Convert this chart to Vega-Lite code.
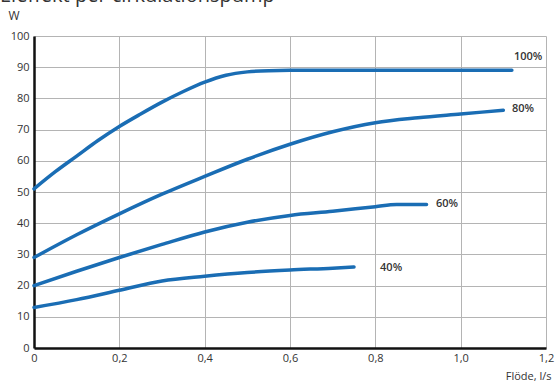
{
  "$schema": "https://vega.github.io/schema/vega-lite/v6.json",
  "width": 512,
  "height": 312,
  "autosize": "none",
  "padding": {"left": 34, "top": 36, "right": 11, "bottom": 35},
  "background": "white",
  "title": {
    "text": "Eleffekt per cirkulationspump",
    "anchor": "start",
    "frame": "group",
    "dx": -34,
    "dy": 13,
    "offset": 0,
    "baseline": "alphabetic",
    "fontSize": 20,
    "font": "Open Sans",
    "fontWeight": "normal",
    "color": "#333333"
  },
  "config": {
    "view": {"stroke": null},
    "font": "Open Sans",
    "axis": {
      "labelFont": "Open Sans",
      "labelFontSize": 11,
      "labelColor": "#333333",
      "labelOverlap": false,
      "labelFlush": false,
      "titleFont": "Open Sans",
      "titleFontSize": 11,
      "titleFontWeight": "normal",
      "titleColor": "#333333",
      "gridColor": "#b4b4b4",
      "gridWidth": 1,
      "gridOpacity": 1,
      "domainColor": "#111111",
      "domainWidth": 2.5,
      "ticks": false
    }
  },
  "datasets": {
    "curves": [
      {"x": 0, "y": 51, "s": "100%"},
      {"x": 0.05, "y": 56.5, "s": "100%"},
      {"x": 0.1, "y": 61.5, "s": "100%"},
      {"x": 0.15, "y": 66.5, "s": "100%"},
      {"x": 0.2, "y": 71, "s": "100%"},
      {"x": 0.25, "y": 75, "s": "100%"},
      {"x": 0.3, "y": 78.8, "s": "100%"},
      {"x": 0.35, "y": 82.2, "s": "100%"},
      {"x": 0.4, "y": 85.2, "s": "100%"},
      {"x": 0.45, "y": 87.4, "s": "100%"},
      {"x": 0.5, "y": 88.5, "s": "100%"},
      {"x": 0.55, "y": 88.9, "s": "100%"},
      {"x": 0.6, "y": 89, "s": "100%"},
      {"x": 0.8, "y": 89, "s": "100%"},
      {"x": 1.0, "y": 89, "s": "100%"},
      {"x": 1.12, "y": 89, "s": "100%"},
      {"x": 0, "y": 29, "s": "80%"},
      {"x": 0.1, "y": 36.3, "s": "80%"},
      {"x": 0.2, "y": 43, "s": "80%"},
      {"x": 0.3, "y": 49.3, "s": "80%"},
      {"x": 0.4, "y": 55, "s": "80%"},
      {"x": 0.5, "y": 60.5, "s": "80%"},
      {"x": 0.6, "y": 65.3, "s": "80%"},
      {"x": 0.7, "y": 69.3, "s": "80%"},
      {"x": 0.8, "y": 72.2, "s": "80%"},
      {"x": 0.9, "y": 73.8, "s": "80%"},
      {"x": 1.0, "y": 75, "s": "80%"},
      {"x": 1.1, "y": 76.2, "s": "80%"},
      {"x": 0, "y": 20, "s": "60%"},
      {"x": 0.1, "y": 24.6, "s": "60%"},
      {"x": 0.2, "y": 29, "s": "60%"},
      {"x": 0.3, "y": 33.2, "s": "60%"},
      {"x": 0.4, "y": 37.2, "s": "60%"},
      {"x": 0.5, "y": 40.3, "s": "60%"},
      {"x": 0.6, "y": 42.5, "s": "60%"},
      {"x": 0.7, "y": 43.8, "s": "60%"},
      {"x": 0.8, "y": 45.3, "s": "60%"},
      {"x": 0.85, "y": 46, "s": "60%"},
      {"x": 0.92, "y": 46, "s": "60%"},
      {"x": 0, "y": 13, "s": "40%"},
      {"x": 0.1, "y": 15.5, "s": "40%"},
      {"x": 0.2, "y": 18.5, "s": "40%"},
      {"x": 0.3, "y": 21.5, "s": "40%"},
      {"x": 0.4, "y": 23, "s": "40%"},
      {"x": 0.5, "y": 24.2, "s": "40%"},
      {"x": 0.6, "y": 25, "s": "40%"},
      {"x": 0.7, "y": 25.6, "s": "40%"},
      {"x": 0.75, "y": 26, "s": "40%"}
    ],
    "labels": [
      {"x": 1.158, "y": 93.3, "t": "100%"},
      {"x": 1.146, "y": 76.6, "t": "80%"},
      {"x": 0.968, "y": 46.2, "t": "60%"},
      {"x": 0.837, "y": 25.6, "t": "40%"}
    ]
  },
  "encoding": {
    "x": {
      "field": "x", "type": "quantitative",
      "scale": {"domain": [0, 1.2], "nice": false},
      "axis": {
        "values": [0, 0.2, 0.4, 0.6, 0.8, 1.0, 1.2],
        "labelExpr": "replace(format(datum.value, datum.value == 0 ? 'd' : '.1f'), '.', ',')",
        "labelPadding": 4,
        "title": "Flöde, l/s",
        "titleAnchor": "end",
        "titleAlign": "right",
        "titleX": 517,
        "titleY": 31,
        "titleBaseline": "alphabetic"
      }
    },
    "y": {
      "field": "y", "type": "quantitative",
      "scale": {"domain": [0, 100], "nice": false},
      "axis": {
        "values": [0, 10, 20, 30, 40, 50, 60, 70, 80, 90, 100],
        "tickCount": 11,
        "labelPadding": 5,
        "title": "W",
        "titleAngle": 0,
        "titleAlign": "left",
        "titleBaseline": "alphabetic",
        "titleX": -26,
        "titleY": -17,
        "titleFontSize": 12
      }
    }
  },
  "layer": [
    {
      "data": {"name": "curves"},
      "mark": {"type": "line", "color": "#1a6db4", "strokeWidth": 3.5, "strokeCap": "round", "interpolate": "monotone"},
      "encoding": {
        "detail": {"field": "s"}
      }
    },
    {
      "data": {"name": "labels"},
      "mark": {"type": "text", "font": "Open Sans", "fontSize": 11, "fontWeight": 600, "color": "#333333", "align": "center", "baseline": "middle"},
      "encoding": {
        "text": {"field": "t"}
      }
    }
  ]
}
